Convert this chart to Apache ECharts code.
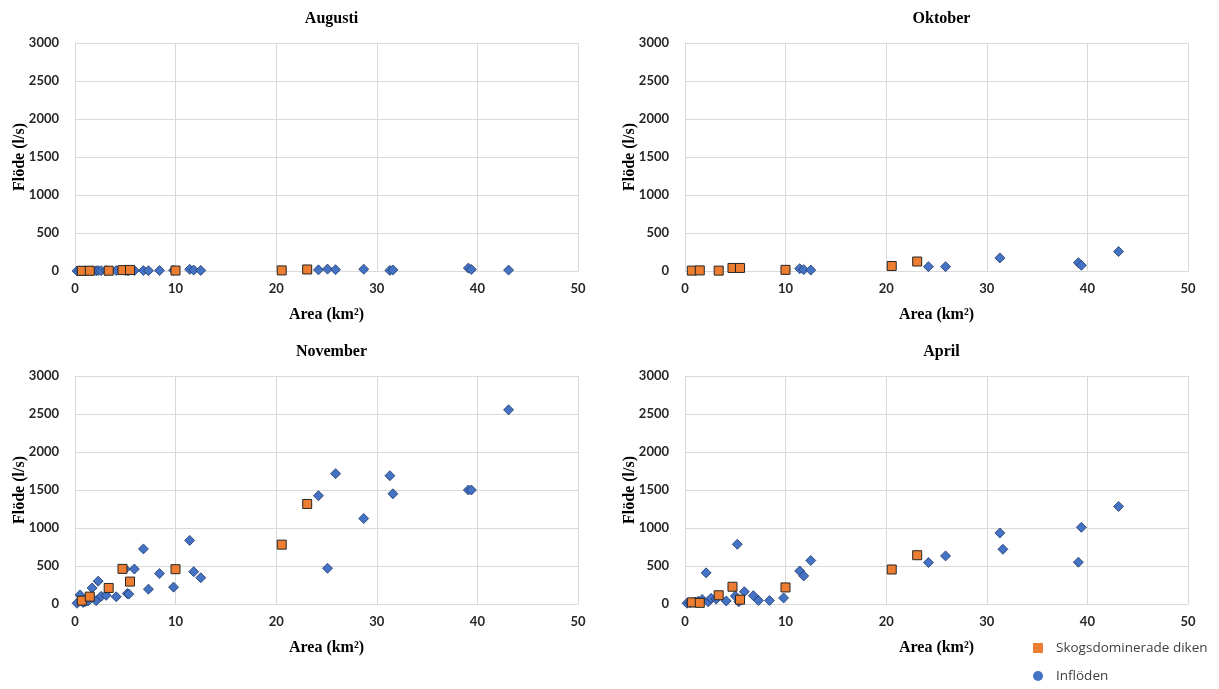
<!DOCTYPE html>
<html>
<head>
<meta charset="utf-8">
<script src="https://cdn.jsdelivr.net/npm/echarts@6/dist/echarts.min.js"></script>
<style>
html,body{margin:0;padding:0;background:#fff;}
#chart{width:1219px;height:689px;}
</style>
</head>
<body>
<div id="chart"></div>
<script>
// Panel titles
const panelTitles = ['Augusti', 'Oktober', 'November', 'April'];
const seriesNames = ['Skogsdominerade diken', 'Inflöden'];
const xTicks = [0, 10, 20, 30, 40, 50];
const yTicks = [0, 500, 1000, 1500, 2000, 2500, 3000];

// Areas (km2)
const skogAreas = [0.68, 1.47, 3.35, 4.72, 5.47, 9.99, 20.55, 23.08];
const inflAreas = [0.2, 0.5, 0.8, 1.0, 1.3, 1.7, 2.1, 2.3, 2.6, 3.1, 4.1, 5.0, 5.2, 5.35, 5.9, 6.8, 7.3, 8.4, 9.8, 11.4, 11.8, 12.5, 24.2, 25.1, 25.9, 28.7, 31.3, 31.6, 39.1, 39.4, 43.1];

// Flow (l/s) per month
const skogAugusti  = [2, 3, 4, 12, 14, 6, 8, 20];
const skogOktober  = [5, 8, 5, 40, 40, 15, 66, 125];
const skogNovember = [44, 97, 211, 462, 295, 458, 781, 1316];
const skogApril    = [21, 15, 115, 227, 57, 218, 454, 642];

const inflAugusti  = [1, 2, 1, 3, 2, 4, 3, 5, 4, 6, 5, 8, 6, 5, 6, 5, 4, 7, 9, 22, 12, 8, 15, 25, 18, 24, 8, 14, 38, 20, 12];
const inflOktober  = [null, null, null, null, null, null, null, null, null, null, null, null, null, null, null, null, null, null, null, 31, 18, 12, 57, null, 57, null, 172, null, 110, 75, 256];
const inflNovember = [10, 120, 20, 30, 40, 211, 44, 300, 101, 114, 95, 460, 137, 130, 460, 725, 195, 400, 222, 837, 425, 345, 1425, 470, 1715, 1125, 1688, 1450, 1500, 1500, 2555];
const inflApril    = [10, 15, 20, 25, 35, 60, 410, 30, 75, 65, 40, 105, 786, 30, 162, 110, 45, 45, 80, 435, 370, 572, 546, null, 633, null, 935, 720, 550, 1009, 1284];

const skogData = [skogAugusti, skogOktober, skogNovember, skogApril];
const inflData = [inflAugusti, inflOktober, inflNovember, inflApril];

const pair = (xs, ys) => xs.map((x, i) => [x, ys[i]]).filter(d => d[1] !== null && d[1] !== undefined);

const grids = [
  {left: 75, top: 43, width: 503, height: 228},
  {left: 685, top: 43, width: 503, height: 228},
  {left: 75, top: 376, width: 503, height: 228},
  {left: 685, top: 376, width: 503, height: 228}
];

const serif = '"Liberation Serif", "Times New Roman", serif';
const sans = 'Lato, "Open Sans", sans-serif';

const option = {
  animation: false,
  backgroundColor: '#fff',
  title: panelTitles.map((t, i) => ({
    text: t,
    left: grids[i].left + grids[i].width / 2,
    top: grids[i].top - 37,
    textAlign: 'center',
    textStyle: {fontFamily: serif, fontWeight: 'bold', fontSize: 16, color: '#000'}
  })),
  legend: {
    orient: 'vertical',
    left: 1028,
    top: 636,
    itemWidth: 10,
    itemHeight: 10,
    itemGap: 14,
    itemStyle: {borderWidth: 0},
    data: [{name: seriesNames[0], icon: 'rect'}, {name: seriesNames[1], icon: 'circle'}],
    textStyle: {fontFamily: '"Open Sans", sans-serif', fontSize: 13.5, color: '#404040', padding: [0, 0, 0, 8]}
  },
  grid: grids,
  xAxis: grids.map((g, i) => ({
    type: 'value', gridIndex: i, min: 0, max: 50, interval: 10,
    name: 'Area (km²)', nameLocation: 'middle', nameGap: 36,
    nameTextStyle: {fontFamily: serif, fontWeight: 'bold', fontSize: 16, color: '#000'},
    axisLine: {show: true, lineStyle: {color: '#d9d9d9'}},
    axisTick: {show: false},
    axisLabel: {margin: 11, fontFamily: sans, fontWeight: 'bold', fontSize: 13, color: '#262626'},
    splitLine: {show: true, lineStyle: {color: '#d9d9d9'}}
  })),
  yAxis: grids.map((g, i) => ({
    type: 'value', gridIndex: i, min: 0, max: 3000, interval: 500,
    name: 'Flöde (l/s)', nameLocation: 'middle', nameGap: 47, nameMoveOverlap: false,
    nameTextStyle: {fontFamily: serif, fontWeight: 'bold', fontSize: 16, color: '#000'},
    axisLine: {show: true, lineStyle: {color: '#d9d9d9'}},
    axisTick: {show: false},
    axisLabel: {margin: 16, fontFamily: sans, fontWeight: 'bold', fontSize: 13, color: '#262626', formatter: v => String(v)},
    splitLine: {show: true, lineStyle: {color: '#d9d9d9'}}
  })),
  series: []
};

for (let i = 0; i < 4; i++) {
  option.series.push({
    name: seriesNames[1], type: 'scatter', xAxisIndex: i, yAxisIndex: i,
    symbol: 'diamond', symbolSize: [10, 10],
    itemStyle: {color: '#4472C4', borderColor: '#1f3864', borderWidth: 0.8, opacity: 1},
    data: pair(inflAreas, inflData[i]), z: 2
  });
}
for (let i = 0; i < 4; i++) {
  option.series.push({
    name: seriesNames[0], type: 'scatter', xAxisIndex: i, yAxisIndex: i,
    symbol: 'rect', symbolSize: [9, 9],
    itemStyle: {color: '#ED7D31', borderColor: '#262626', borderWidth: 1, opacity: 1},
    data: pair(skogAreas, skogData[i]), z: 3
  });
}

const chart = echarts.init(document.getElementById('chart'), null, {renderer: 'canvas'});
chart.setOption(option);
</script>
</body>
</html>
